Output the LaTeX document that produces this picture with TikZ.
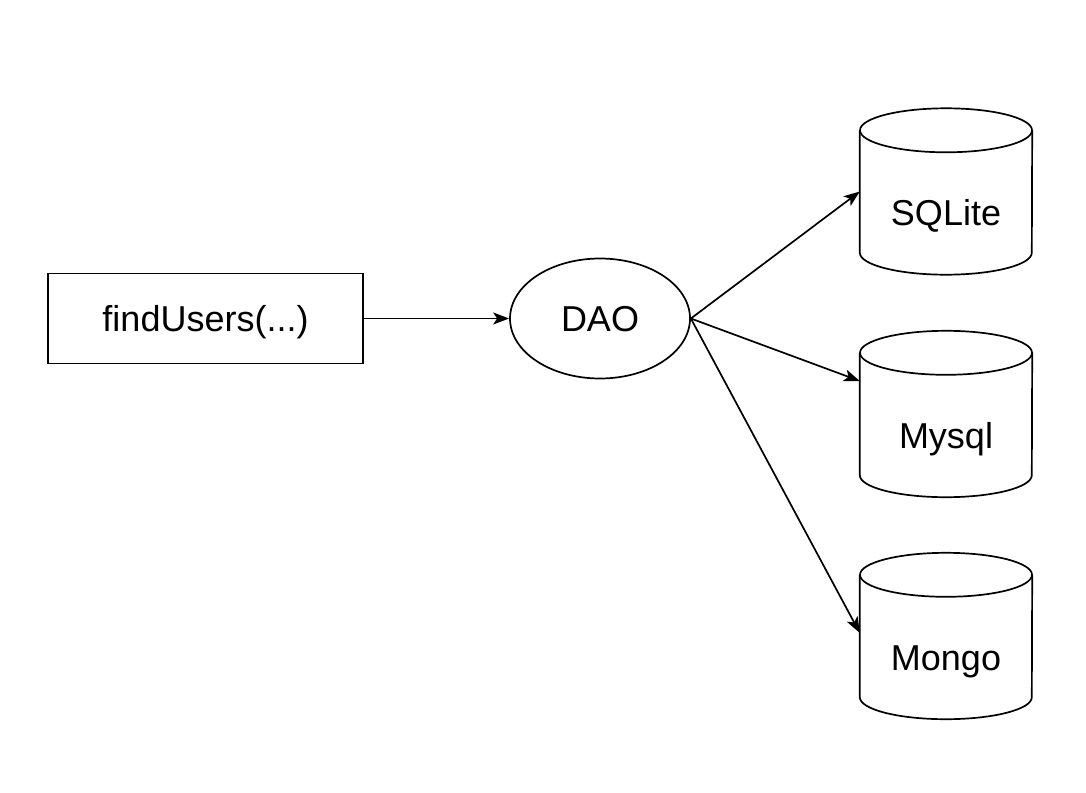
\documentclass[tikz,border=0pt]{standalone}
\usepackage{fontspec}
\setmainfont{Liberation Sans}
\usetikzlibrary{shapes.geometric,arrows.meta}
\begin{document}
\begin{tikzpicture}[x=1pt,y=-1pt,
  lw/.style={line width=1.7pt},
  txt/.style={font=\fontsize{36}{42}\selectfont,text height=26pt,text depth=0pt},
  box/.style={draw,lw,txt,minimum width=315pt,minimum height=90pt,inner sep=0pt},
  oval/.style={ellipse,draw,lw,txt,minimum width=180pt,minimum height=120pt,inner sep=0pt},
  cylnode/.style={draw=none,minimum width=172pt,minimum height=166pt,inner sep=0pt},
  arr/.style={lw,-{Stealth[length=16pt,width=12pt,inset=4pt]}}
]
\useasboundingbox (0,0) rectangle (1086,792);
\fill[white] (0,0) rectangle (1086,792);

\node[box] (find) at (205.5,318.5) {findUsers(...)};
\node[oval] (dao) at (600,318.5) {DAO};

\node[cylnode,label={[txt,yshift=-21pt]center:SQLite}] (sqlite) at (946,191.5) {};
\node[cylnode,label={[txt,yshift=-21pt]center:Mysql}] (mysql) at (946,414) {};
\node[cylnode,label={[txt,yshift=-21pt]center:Mongo}] (mongo) at (946,636) {};

\foreach \c in {sqlite,mysql,mongo}{
  \draw[lw] ([yshift=-22pt]\c.north) ellipse[x radius=86pt,y radius=22pt];
  \draw[lw] ([yshift=-22pt]\c.north west) -- ([yshift=22pt]\c.south west)
     arc[start angle=180,end angle=360,x radius=86pt,y radius=22pt]
     -- ([yshift=-22pt]\c.north east);
}

\draw[arr] (find.east) -- (dao.west);
\draw[arr] (dao.east) -- (sqlite.west);
\draw[arr] (dao.east) -- ([yshift=33pt]mysql.west);
\draw[arr] (dao.east) -- ([yshift=3pt]mongo.west);
\end{tikzpicture}
\end{document}
